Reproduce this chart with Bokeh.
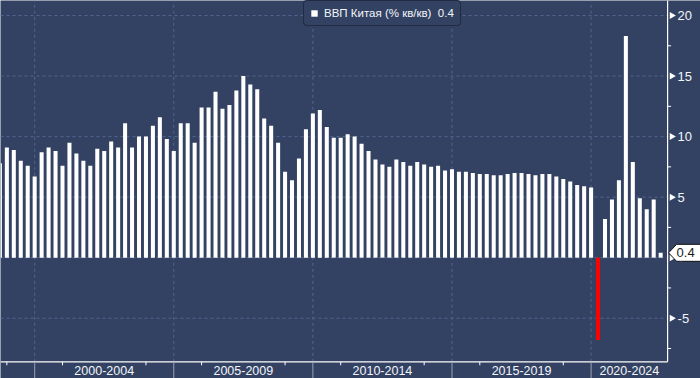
import math
from bokeh.plotting import figure
from bokeh.models import Range1d, Legend, LegendItem
from bokeh.core.properties import value
from bokeh.embed import file_html
from bokeh.resources import INLINE

# ---------------- data ----------------
start_year, start_quarter = 1998, 3          # first bar = 1998Q3, quarterly
gdp_yoy = [
    7.8, 9.1,                                  # 1998 Q3-Q4
    8.9, 8.0, 7.6, 6.7,                        # 1999
    8.7, 9.1, 8.8, 7.6,                        # 2000
    9.5, 8.6, 8.0, 7.6,                        # 2001
    9.0, 8.8, 9.6, 9.1,                        # 2002
    11.1, 9.1, 10.0, 10.0,                     # 2003
    10.9, 11.6, 9.8, 8.8,                      # 2004
    11.1, 11.1, 9.5, 12.4,                     # 2005
    12.4, 13.7, 12.3, 12.6,                    # 2006
    13.8, 15.0, 14.3, 13.9,                    # 2007
    11.5, 10.9, 9.5, 7.1,                      # 2008
    6.4, 8.2, 10.6, 11.9,                      # 2009
    12.2, 10.8, 9.9, 9.9,                      # 2010
    10.2, 10.0, 9.4, 8.8,                      # 2011
    8.1, 7.7, 7.5, 8.1,                        # 2012
    7.9, 7.6, 7.9, 7.7,                        # 2013
    7.5, 7.6, 7.2, 7.3,                        # 2014
    7.1, 7.1, 7.0, 6.9,                        # 2015
    6.9, 6.8, 6.8, 6.9,                        # 2016
    7.0, 7.0, 6.9, 6.8,                        # 2017
    6.9, 6.9, 6.7, 6.5,                        # 2018
    6.3, 6.0, 5.9, 5.8,                        # 2019
    -6.8, 3.2, 4.8, 6.4,                       # 2020
    18.3, 7.9, 4.9, 4.0,                       # 2021
    4.8, 0.4,                                  # 2022 Q1-Q2
]
series_name = "ВВП Китая (% кв/кв)"
group_labels = ["2000-2004", "2005-2009", "2010-2014", "2015-2019", "2020-2024"]
group_start_years = [2000, 2005, 2010, 2015, 2020]
y_major_ticks = [-5, 0, 5, 10, 15, 20]
y_minor_ticks = [-7.5, -2.5, 2.5, 7.5, 12.5, 17.5]
y_tick_labels = ["-5", "0", "5", "10", "15", "20"]

# ---------------- styling / layout ----------------
W, H = 700, 378
BG = "#334262"
GRID = "#506590"
SEP = "#9aa1b0"
TXT = "#f2f5fa"
FONT = "Liberation Sans"

x_start, x_end = 0.0863, 100.73      # quarter-index units over the canvas
y_start, y_end = -9.98, 21.24        # value units over the canvas
px_x = W / (x_end - x_start)
px_y = H / (y_end - y_start)

n = len(gdp_yoy)
idx = list(range(n))
axis_x = n                            # right axis one quarter after last bar
axis_bottom = -8.6                    # value at bottom axis line


def year_pos(year):
    """quarter-index of the Q4 bar preceding `year` (the year boundary)."""
    return (year - 1 - start_year) * 4 + (4 - start_quarter)


p = figure(width=W, height=H, output_backend="svg", toolbar_location=None,
           x_range=Range1d(x_start, x_end), y_range=Range1d(y_start, y_end),
           x_axis_location=None, y_axis_location=None, min_border=0,
           outline_line_color=None, background_fill_color=BG, border_fill_color=BG)
p.grid.visible = False

# gridlines
p.segment(x0=[x_start] * len(y_major_ticks), x1=[axis_x] * len(y_major_ticks),
          y0=y_major_ticks, y1=y_major_ticks, line_color=GRID, line_width=1, line_dash="3 3")
bounds = [year_pos(y) for y in group_start_years]
p.segment(x0=bounds, x1=bounds, y0=[axis_bottom] * len(bounds), y1=[y_end] * len(bounds),
          line_color=GRID, line_width=1, line_dash="3 3")

# bars
pos_x = [i for i, v in zip(idx, gdp_yoy) if v >= 0]
pos_v = [v for v in gdp_yoy if v >= 0]
neg_x = [i for i, v in zip(idx, gdp_yoy) if v < 0]
neg_v = [v for v in gdp_yoy if v < 0]
bars = p.vbar(x=pos_x, top=pos_v, bottom=0, width=0.58, fill_color="#ffffff", line_color=None)
p.vbar(x=neg_x, top=neg_v, bottom=0, width=0.58, fill_color="#ff0000", line_color=None)

# right axis
p.segment(x0=[axis_x], x1=[axis_x], y0=[axis_bottom], y1=[y_end], line_color="#ffffff", line_width=1.2)
p.segment(x0=[axis_x] * len(y_minor_ticks), x1=[axis_x + 3.5 / px_x] * len(y_minor_ticks),
          y0=y_minor_ticks, y1=y_minor_ticks, line_color="#ffffff", line_width=1)
p.scatter(x=[axis_x + 4.2 / px_x] * len(y_major_ticks), y=y_major_ticks, marker="triangle",
          angle=-math.pi / 2, size=7, fill_color="#ffffff", line_color=None)
p.text(x=[axis_x + 10 / px_x] * len(y_major_ticks), y=y_major_ticks, text=y_tick_labels,
       text_font=value(FONT), text_font_size="13px", text_color=TXT,
       text_align="left", text_baseline="middle")

# bottom axis
p.segment(x0=[x_start], x1=[axis_x], y0=[axis_bottom], y1=[axis_bottom], line_color="#ffffff", line_width=1.2)
centers = []
for k, b in enumerate(bounds):
    nb = bounds[k + 1] if k + 1 < len(bounds) else axis_x
    centers.append((b + min(nb, axis_x)) / 2)
year_ticks = []
for yr in range(start_year + 1, start_year + 30):
    t = year_pos(yr)
    if t > axis_x:
        break
    if yr % 5 == 0:
        continue
    if any(abs(t - c) < 5 for c in centers):
        continue
    year_ticks.append(t)
p.segment(x0=year_ticks, x1=year_ticks, y0=[axis_bottom] * len(year_ticks),
          y1=[axis_bottom - 3.5 / px_y] * len(year_ticks), line_color="#ffffff", line_width=1)
p.segment(x0=bounds, x1=bounds, y0=[axis_bottom] * len(bounds), y1=[y_start] * len(bounds),
          line_color=SEP, line_width=1)
p.text(x=centers, y=[axis_bottom - 9.2 / px_y] * len(centers), text=group_labels,
       text_font=value(FONT), text_font_size="12.5px", text_color=TXT,
       text_align="center", text_baseline="middle")

# last-value callout on the right axis
last = gdp_yoy[-1]
ax0 = axis_x + 1 / px_x
offs = [(0, 0), (8, 8.5), (40, 8.5), (40, -8.5), (8, -8.5)]
p.patch(x=[ax0 + dx / px_x for dx, dy in offs], y=[last + dy / px_y for dx, dy in offs],
        fill_color="#ffffff", line_color="#111111", line_width=1)
p.text(x=[ax0 + 8 / px_x], y=[last], text=[f"{last:.1f}"], text_font=value(FONT),
       text_font_size="13px", text_color="#1a1a1a", text_align="left", text_baseline="middle")

# legend (tuple location = bottom-left corner in screen px from the frame's bottom-left)
legend_h = 24
leg = Legend(items=[LegendItem(label=f"{series_name}\u00a0\u00a0{last:.1f}", renderers=[bars])],
             location=(303, H - 2 - legend_h), orientation="horizontal",
             background_fill_color=BG, background_fill_alpha=1.0,
             border_line_color="#10141f", border_line_width=1.5,
             label_text_color=TXT, label_text_font=FONT, label_text_font_size="11.5px",
             glyph_width=8, glyph_height=8, label_standoff=6, label_height=12,
             padding=6, margin=0, spacing=0)
if "border_radius" in leg.properties():
    leg.border_radius = 4
p.add_layout(leg, "center")

open("out.html", "w").write(file_html(p, INLINE))
